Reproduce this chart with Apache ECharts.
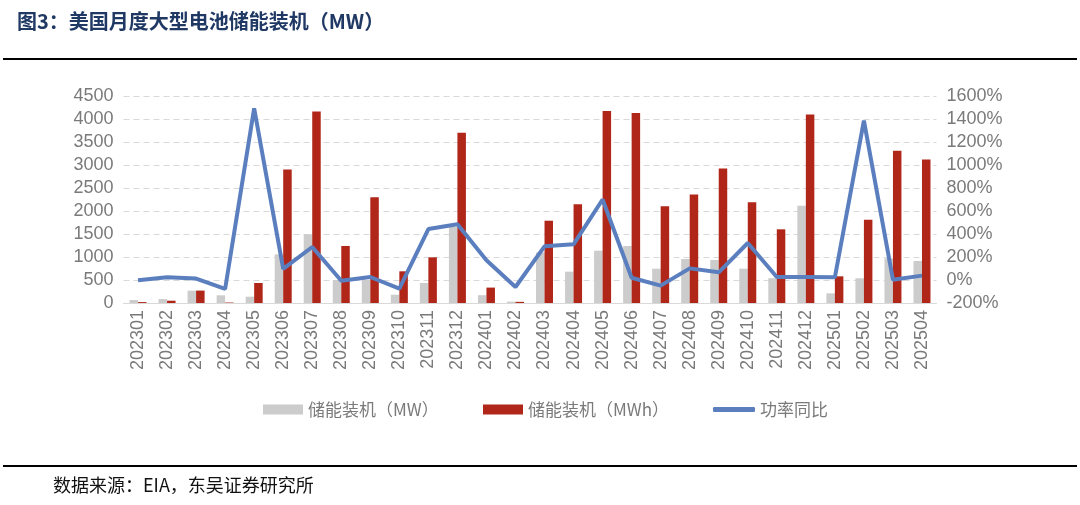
<!DOCTYPE html>
<html>
<head>
<meta charset="utf-8">
<script src="https://cdn.jsdelivr.net/npm/echarts@6/dist/echarts.min.js"></script>
<style>
  html, body { margin: 0; padding: 0; background: #fff; }
  #main { width: 1080px; height: 505px; }
</style>
</head>
<body>
<div id="main"></div>
<script>
// 月份
var months = ['202301', '202302', '202303', '202304', '202305', '202306', '202307',
  '202308', '202309', '202310', '202311', '202312', '202401', '202402', '202403',
  '202404', '202405', '202406', '202407', '202408', '202409', '202410', '202411',
  '202412', '202501', '202502', '202503', '202504'];
// 储能装机（MW）
var powerMW = [65, 85, 268, 167, 137, 1058, 1493, 500, 500, 180, 435, 1655, 170, 30,
  1100, 681, 1137, 1239, 746, 957, 935, 746, 540, 2115, 210, 537, 970, 913];
// 储能装机（MWh）
var energyMWh = [20, 50, 270, 10, 435, 2900, 4165, 1240, 2300, 689, 993, 3700, 335, 25,
  1789, 2145, 4175, 4130, 2102, 2360, 2925, 2189, 1602, 4100, 580, 1810, 3310, 3120];
// 功率同比（%）
var yoy = [-3, 23, 12, -78, 1492, 96, 287, -6, 26, -75, 443, 485, 171, -61,
  293, 310, 700, 20, -49, 101, 67, 322, 26, 26, 23, 1385, 3, 38];

var myChart = echarts.init(document.getElementById('main'));
var axisFont = 'Liberation Sans, Arial, sans-serif';
var cjkFont = 'Noto Sans CJK SC, sans-serif';
var labelColor = '#7a7a7a';

var legendText = { color: labelColor, fontSize: 17, fontFamily: cjkFont };

option = {
  backgroundColor: '#fff',
  animation: false,
  graphic: [
    {
      type: 'text', left: 17, top: 11,
      style: { text: '图3：美国月度大型电池储能装机（MW）', fill: '#1f3864',
        font: 'bold 20px ' + cjkFont }
    },
    {
      type: 'rect', shape: { x: 3, y: 58, width: 1074, height: 2 },
      style: { fill: '#000' }
    },
    {
      type: 'rect', shape: { x: 3, y: 465, width: 1074, height: 2 },
      style: { fill: '#000' }
    },
    {
      type: 'text', left: 53, top: 476,
      style: { text: '数据来源：EIA，东吴证券研究所', fill: '#111',
        font: '18px ' + cjkFont }
    }
  ],
  legend: [
    {
      left: 258, top: 396, itemWidth: 40, itemHeight: 10, itemGap: 4,
      textStyle: legendText,
      data: [{ name: '储能装机（MW）', icon: 'rect' }]
    },
    {
      left: 478, top: 396, itemWidth: 40, itemHeight: 10,
      textStyle: legendText,
      data: [{ name: '储能装机（MWh）', icon: 'rect' }]
    },
    {
      left: 708, top: 396, itemWidth: 42, itemHeight: 5,
      textStyle: legendText,
      data: [{ name: '功率同比', icon: 'roundRect' }]
    }
  ],
  grid: { left: 123.5, right: 143.5, top: 96, bottom: 202 },
  xAxis: {
    type: 'category',
    data: months,
    axisLine: { lineStyle: { color: '#d9d9d9' } },
    axisTick: { show: false },
    axisLabel: { rotate: 90, color: labelColor, fontSize: 18, fontFamily: axisFont, margin: 7 }
  },
  yAxis: [
    {
      type: 'value', min: 0, max: 4500, interval: 500,
      axisLine: { show: false }, axisTick: { show: false },
      axisLabel: { color: labelColor, fontSize: 18, fontFamily: axisFont, margin: 10,
        formatter: function (v) { return String(v); } },
      splitLine: { lineStyle: { color: '#d9d9d9', type: [6, 4] } }
    },
    {
      type: 'value', min: -200, max: 1600, interval: 200,
      axisLine: { show: false }, axisTick: { show: false },
      axisLabel: { color: labelColor, fontSize: 18, fontFamily: axisFont, margin: 10,
        formatter: function (v) { return v + '%'; } },
      splitLine: { show: false }
    }
  ],
  series: [
    {
      name: '储能装机（MW）', type: 'bar', data: powerMW,
      barWidth: 8.5, barGap: '0%',
      itemStyle: { color: '#cccccc' }
    },
    {
      name: '储能装机（MWh）', type: 'bar', data: energyMWh,
      barWidth: 8.5,
      itemStyle: { color: '#b0271a' }
    },
    {
      name: '功率同比', type: 'line', yAxisIndex: 1, data: yoy,
      symbol: 'none', z: 5,
      lineStyle: { color: '#5b7fbe', width: 4 },
      itemStyle: { color: '#5b7fbe' }
    }
  ]
};
myChart.setOption(option);
</script>
</body>
</html>
